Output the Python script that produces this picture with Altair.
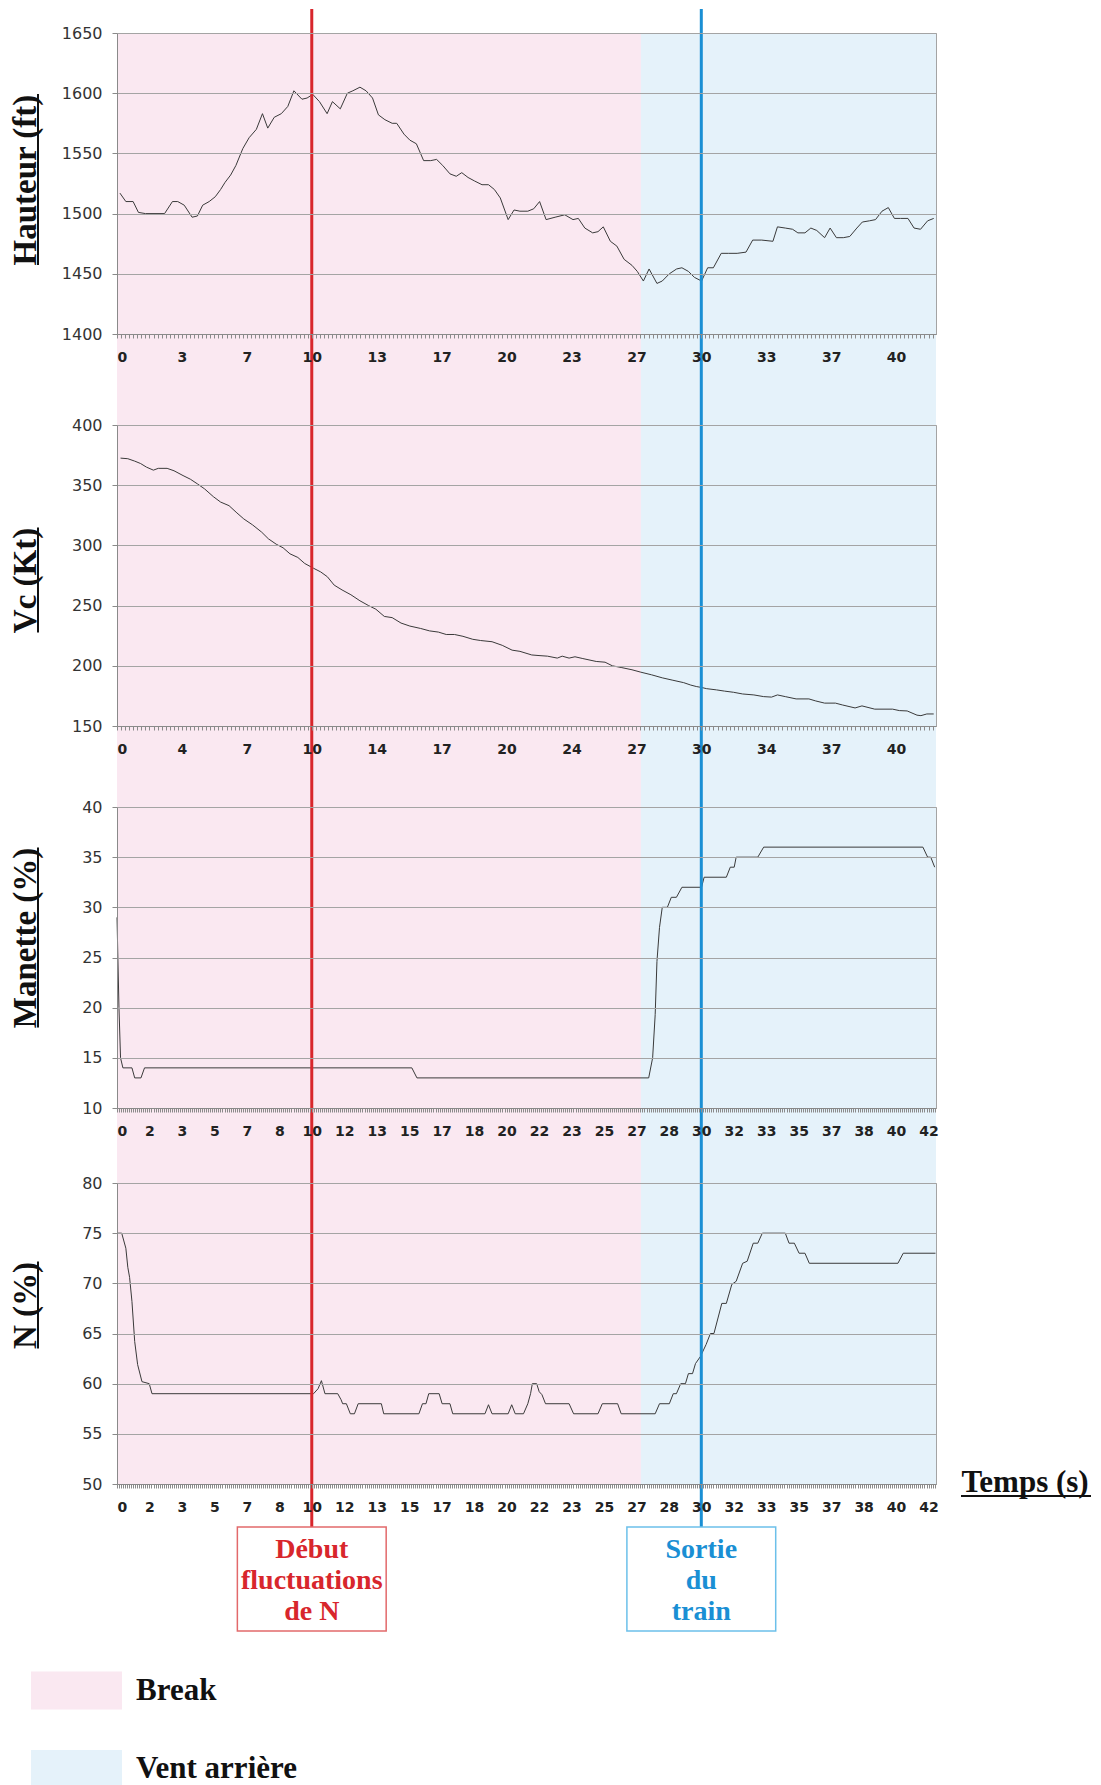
import altair as alt
import pandas as pd

# ---------------- data ----------------
T_END = 42.05            # right edge of the time axis (s)
T_BREAK_END = 26.9       # end of the "Break" phase
T_DEBUT = 10.0           # Début fluctuations de N
T_SORTIE = 30.0          # Sortie du train
# the series times below were read against a 41.667 s wide frame; this converts them
READ_CAL = T_END / (125 / 3)

H_T = [0.15, 0.45, 0.82, 1.09, 1.45, 2.42, 2.82, 3.09, 3.42, 3.82,
       4.09, 4.36, 4.69, 5.0, 5.27, 5.5, 5.78, 6.05, 6.4, 6.72,
       7.09, 7.4, 7.67, 8.0, 8.36, 8.69, 9.0, 9.41, 9.67, 9.96,
       10.3, 10.69, 10.96, 11.36, 11.72, 12.0, 12.36, 12.67, 13.0, 13.3,
       13.63, 14.0, 14.23, 14.6, 14.9, 15.23, 15.6, 15.96, 16.26, 16.57,
       16.94, 17.26, 17.54, 17.86, 18.2, 18.57, 18.9, 19.2, 19.5, 19.9,
       20.2, 20.5, 20.9, 21.2, 21.5, 21.83, 22.29, 22.78, 23.2, 23.47,
       23.8, 24.2, 24.47, 24.74, 25.1, 25.43, 25.8, 26.2, 26.47, 26.78,
       27.07, 27.47, 27.74, 28.1, 28.47, 28.74, 29.07, 29.38, 29.74, 30.05,
       30.34, 30.74, 31.1, 31.55, 32.0, 32.34, 32.8, 33.37, 33.6, 34.0,
       34.37, 34.64, 35.0, 35.3, 35.6, 36.0, 36.28, 36.6, 36.95, 37.28,
       37.64, 37.92, 38.28, 38.59, 38.92, 39.24, 39.55, 39.86, 40.24, 40.55,
       40.88, 41.24, 41.55]
H_V = [1517, 1510, 1510, 1501, 1500, 1500, 1510, 1510, 1507, 1497,
       1498, 1507, 1510, 1514, 1520, 1526, 1532, 1540, 1554, 1563,
       1570, 1583, 1571, 1580, 1583, 1589, 1602, 1595, 1596, 1599,
       1593, 1583, 1593, 1587, 1600, 1602, 1605, 1602, 1596, 1582,
       1578, 1575, 1575, 1566, 1561, 1558, 1544, 1544, 1545, 1540,
       1533, 1531, 1534, 1530, 1527, 1524, 1524, 1520, 1513, 1495,
       1503, 1502, 1502, 1504, 1510, 1495, 1497, 1499, 1495, 1496,
       1488, 1484, 1485, 1489, 1477, 1473, 1462, 1457, 1452, 1444,
       1454, 1442, 1444, 1450, 1454, 1455, 1452, 1447, 1444, 1455,
       1455, 1467, 1467, 1467, 1468, 1478, 1478, 1477, 1489, 1488,
       1487, 1484, 1484, 1488, 1486, 1480, 1488, 1480, 1480, 1481,
       1488, 1493, 1494, 1495, 1502, 1505, 1496, 1496, 1496, 1488,
       1487, 1494, 1496]

VC_T = [0.18, 0.55, 0.9, 1.2, 1.5, 1.85, 2.1, 2.55, 2.9, 3.36,
        3.73, 4.1, 4.45, 4.9, 5.27, 5.7, 6.1, 6.45, 6.9, 7.36,
        7.7, 8.1, 8.45, 8.8, 9.2, 9.55, 10.0, 10.36, 10.7, 11.05,
        11.45, 11.9, 12.36, 12.8, 13.17, 13.6, 14.0, 14.45, 14.9, 15.45,
        15.9, 16.35, 16.75, 17.17, 17.6, 18.1, 18.5, 19.08, 19.6, 20.1,
        20.5, 21.1, 21.47, 21.9, 22.4, 22.65, 23.0, 23.3, 23.7, 24.38,
        24.83, 25.2, 25.65, 26.2, 26.65, 27.2, 27.74, 28.28, 28.83, 29.19,
        29.47, 29.74, 30.0, 30.5, 30.9, 31.37, 31.83, 32.4, 32.9, 33.3,
        33.6, 34.0, 34.55, 35.2, 35.55, 36.0, 36.55, 36.9, 37.55, 37.9,
        38.55, 39.46, 39.8, 40.2, 40.7, 40.9, 41.2, 41.55]
VC_V = [372.5, 372, 370, 368, 365, 362.5, 364, 364, 362, 358,
        355, 351, 347, 340.5, 336, 333, 327, 322, 317, 311,
        305.5, 301, 298, 293, 290, 285, 281, 278, 274, 267,
        263, 259, 254, 250, 247, 241, 240, 235.5, 233, 231,
        229, 228, 226, 226, 224.5, 222, 221, 220, 217, 213,
        212, 209, 208.5, 208, 206.4, 208, 206.4, 207.5, 206, 203.6,
        203, 200, 198.6, 196.7, 194.7, 192.5, 190, 188, 186, 184,
        182.8, 182, 181, 180, 179, 178, 176.6, 175.8, 174.4, 174,
        175.8, 174.4, 172.5, 172.5, 170.8, 169, 169, 167.5, 165, 166.7,
        164, 164, 162.8, 162.5, 159, 158.6, 160, 160]

MAN_T = [0.0, 0.1, 0.18, 0.3, 0.76, 0.9, 1.22, 1.4, 15.0, 15.26,
         27.05, 27.25, 27.38, 27.47, 27.6, 27.74, 28.0, 28.2, 28.46, 28.74,
         29.74, 29.87, 31.0, 31.2, 31.4, 31.5, 32.6, 32.9, 41.0, 41.24,
         41.4, 41.6]
MAN_V = [29, 20, 15, 14, 14, 13, 13, 14, 14, 13,
         13, 15, 19.3, 24.6, 28, 30, 30, 31, 31, 32,
         32, 33, 33, 34, 34, 35, 35, 36, 36, 35,
         35, 34]

N_T = [0.0, 0.24, 0.45, 0.55, 0.64, 0.76, 0.9, 1.05, 1.27, 1.64,
       1.78, 10.0, 10.23, 10.4, 10.58, 11.23, 11.4, 11.48, 11.67, 11.87,
       12.08, 12.27, 13.45, 13.57, 15.36, 15.54, 15.72, 15.86, 16.39, 16.54,
       16.94, 17.08, 18.72, 18.9, 19.08, 19.9, 20.08, 20.26, 20.68, 20.9,
       21.04, 21.13, 21.35, 21.48, 21.62, 21.8, 23.0, 23.23, 24.47, 24.69,
       25.47, 25.65, 27.38, 27.6, 28.1, 28.3, 28.46, 28.68, 28.92, 29.07,
       29.28, 29.43, 29.68, 29.97, 30.19, 30.37, 30.77, 31.0, 31.28, 31.5,
       31.83, 32.06, 32.37, 32.6, 32.83, 34.0, 34.19, 34.46, 34.7, 35.0,
       35.22, 39.73, 40.0, 41.64]
N_V = [75, 75, 73.5, 71.6, 70.6, 68.2, 64.2, 61.9, 60.2, 60,
       59, 59, 59.5, 60.3, 59, 59, 58.4, 58, 58, 57,
       57, 58, 58, 57, 57, 58, 58, 59, 59, 58,
       58, 57, 57, 57.9, 57, 57, 57.9, 57, 57, 58,
       59, 60, 60, 59.2, 58.9, 58, 58, 57, 57, 58,
       58, 57, 57, 58, 58, 59, 59, 60, 60, 61,
       61, 62, 62.7, 63.9, 65, 65, 68, 68, 69.9, 70.2,
       72, 72.2, 74, 74, 75, 75, 74, 74, 73, 73,
       72, 72, 73, 73]

X_LABELS_H = ["0", "3", "7", "10", "13", "17", "20", "23", "27", "30", "33", "37", "40"]
X_LABELS_VC = ["0", "4", "7", "10", "14", "17", "20", "24", "27", "30", "34", "37", "40"]
X_LABELS_FINE = ["0", "2", "3", "5", "7", "8", "10", "12", "13", "15", "17", "18", "20",
                 "22", "23", "25", "27", "28", "30", "32", "33", "35", "37", "38", "40", "42"]

Y_TICKS_H = [1400, 1450, 1500, 1550, 1600, 1650]
Y_TICKS_VC = [150, 200, 250, 300, 350, 400]
Y_TICKS_MAN = [10, 15, 20, 25, 30, 35, 40]
Y_TICKS_N = [50, 55, 60, 65, 70, 75, 80]

Y_TITLES = ["Hauteur (ft)", "Vc (Kt)", "Manette (%)", "N (%)"]
X_TITLE = "Temps (s)"

PHASES = ["Break", "Vent arrière"]
PHASE_START = [0, T_BREAK_END]
PHASE_END = [T_BREAK_END, T_END]

EVENT_T = [T_DEBUT, T_SORTIE]
EVENT_LABELS = ["Début\nfluctuations\nde N", "Sortie\ndu\ntrain"]
EVENT_HALF = 3.82

# ---------------- styling ----------------
PINK = "#fae8f1"
BLUEBG = "#e5f2fa"
RED = "#d8262c"
BLUE = "#1a8fd4"
RED_BOX = "#e2696b"
BLUE_BOX = "#6cc0ea"
LINE = "#3a3a3a"
GRID = "#a4a4a4"
AXC = "#8a8a8a"
SERIF = "Liberation Serif"

W, H = 819, 301
GAPS = [91, 81, 75]
TEMPS_X, TEMPS_LEN = 844, 130

xscale = alt.Scale(domain=[0, T_END], nice=False, zero=False)
phase_df = pd.DataFrame({"phase": PHASES, "t0": PHASE_START, "t1": PHASE_END})
one = pd.DataFrame({"a": [0]})


def x_axis(labels, major, title=None):
    minor = major / 16
    n = int(T_END / minor + 1e-9)
    vals = [k * minor for k in range(n + 1)]
    arr = "[" + ",".join("'%s'" % s for s in labels) + "]"
    idx = "round(datum.value / %.10f)" % minor
    expr = "(%s %% 16 == 0 && %s / 16 < %d) ? %s[%s / 16] : ''" % (idx, idx, len(labels), arr, idx)
    kw = dict(values=vals, labelExpr=expr, tickSize=4, tickColor=AXC, domainColor=AXC,
              labelFont="DejaVu Sans", labelFontWeight="bold", labelFontSize=14,
              labelColor="#222", labelPadding=19, labelBaseline="middle",
              labelOverlap=False, grid=False, zindex=1)
    if title:
        kw.update(title=title, titleX=TEMPS_X, titleY=7, titleAlign="left",
                  titleBaseline="alphabetic", titleAngle=0, titleFont=SERIF,
                  titleFontWeight="bold", titleFontSize=31, titleColor="#111")
    else:
        kw.update(title=None)
    return alt.Axis(**kw)


def panel(t, v, ydom, yticks, ytitle, tcenter, ulen, xlabels, major,
          below, rule_top=0, rule_below=None, xtitle=None, legend=None, extras=()):
    if rule_below is None:
        rule_below = below
    xa = x_axis(xlabels, major, xtitle)
    ya = alt.Axis(values=yticks, title=ytitle, titleX=-82, titleY=tcenter, titleAngle=270,
                  titleAlign="center", titleBaseline="alphabetic", titleFont=SERIF,
                  titleFontWeight="bold", titleFontSize=33, titleColor="#111",
                  labelFont="DejaVu Sans", labelFontSize=16, labelColor="#333",
                  labelPadding=10, tickSize=5, tickColor=AXC, domainColor=AXC,
                  gridColor=GRID, grid=True, zindex=1, labelOverlap=False, format="d")
    src = pd.DataFrame({"t": [x * READ_CAL for x in t], "v": v})
    bg = alt.Chart(phase_df).mark_rect().encode(
        x=alt.X("t0:Q", scale=xscale, axis=xa), x2="t1:Q",
        y=alt.value(0), y2=alt.value(H + below),
        color=alt.Color("phase:N", scale=alt.Scale(domain=PHASES, range=[PINK, BLUEBG]),
                        legend=legend))
    line = alt.Chart(src).mark_line(color=LINE, strokeWidth=1).encode(
        x=alt.X("t:Q", scale=xscale, axis=xa),
        y=alt.Y("v:Q", scale=alt.Scale(domain=ydom, nice=False, zero=False), axis=ya))
    red = alt.Chart(pd.DataFrame({"t": [EVENT_T[0]]})).mark_rule(color=RED, strokeWidth=3).encode(
        x=alt.X("t:Q", scale=xscale, axis=xa), y=alt.value(rule_top), y2=alt.value(H + rule_below))
    blue = alt.Chart(pd.DataFrame({"t": [EVENT_T[1]]})).mark_rule(color=BLUE, strokeWidth=3).encode(
        x=alt.X("t:Q", scale=xscale, axis=xa), y=alt.value(rule_top), y2=alt.value(H + rule_below))
    ul = alt.Chart(one).mark_rule(color="#111", strokeWidth=2).encode(
        x=alt.value(-79), y=alt.value(tcenter - ulen / 2), y2=alt.value(tcenter + ulen / 2))
    layers = [bg, line, red, blue, ul] + [e(xa) for e in extras]
    return alt.layer(*layers).properties(width=W, height=H)


def spacer(h):
    return (alt.Chart(one).mark_rule(opacity=0)
            .encode(x=alt.value(0), y=alt.value(0), y2=alt.value(1))
            .properties(width=W, height=h, view=alt.ViewBackground(stroke=None)))


boxes_df = pd.DataFrame({
    "t": EVENT_T,
    "t0": [x - EVENT_HALF for x in EVENT_T],
    "t1": [x + EVENT_HALF for x in EVENT_T],
    "label": EVENT_LABELS,
    "stroke": [RED_BOX, BLUE_BOX],
    "tc": [RED, BLUE],
})


def box_layer(xa):
    return alt.Chart(boxes_df).mark_rect(fillOpacity=0, strokeWidth=1.5).encode(
        x=alt.X("t0:Q", scale=xscale, axis=xa), x2="t1:Q",
        y=alt.value(H + 43), y2=alt.value(H + 147),
        stroke=alt.Stroke("stroke:N", scale=None))


def box_text(xa):
    return alt.Chart(boxes_df).mark_text(font=SERIF, fontWeight="bold", fontSize=28,
                                         lineBreak="\n", lineHeight=31,
                                         align="center", baseline="middle").encode(
        x=alt.X("t:Q", scale=xscale, axis=xa), y=alt.value(H + 66),
        text="label:N", fill=alt.Fill("tc:N", scale=None))


def temps_ul(xa):
    return alt.Chart(one).mark_rule(color="#111", strokeWidth=2).encode(
        x=alt.value(TEMPS_X), x2=alt.value(TEMPS_X + TEMPS_LEN), y=alt.value(H + 12))


legend = alt.Legend(orient="none", legendX=-86, legendY=462, title=None,
                    symbolType="M-1,-0.42L1,-0.42L1,0.42L-1,0.42Z", symbolSize=8281,
                    symbolStrokeWidth=0, symbolOpacity=1,
                    labelFont=SERIF, labelFontWeight="bold", labelFontSize=31,
                    labelColor="#111", labelOffset=14, labelLimit=400,
                    rowPadding=13.5, padding=0)

p1 = panel(H_T, H_V, [1400, 1650], Y_TICKS_H, Y_TITLES[0], 146.6, 171,
           X_LABELS_H, 10 / 3, below=GAPS[0], rule_top=-24)
p2 = panel(VC_T, VC_V, [150, 400], Y_TICKS_VC, Y_TITLES[1], 155, 105,
           X_LABELS_VC, 10 / 3, below=GAPS[1])
p3 = panel(MAN_T, MAN_V, [10, 40], Y_TICKS_MAN, Y_TITLES[2], 130.5, 180,
           X_LABELS_FINE, 5 / 3, below=GAPS[2])
p4 = panel(N_T, N_V, [50, 80], Y_TICKS_N, Y_TITLES[3], 122, 87,
           X_LABELS_FINE, 5 / 3, below=0, rule_below=43, xtitle=X_TITLE,
           legend=legend, extras=(box_layer, box_text, temps_ul))

chart = (alt.vconcat(p1, spacer(GAPS[0]), p2, spacer(GAPS[1]), p3, spacer(GAPS[2]), p4,
                     spacing=0, bounds="flush")
         .resolve_legend(color="independent")
         .properties(padding={"left": 0, "top": -1, "right": 0, "bottom": 4})
         .configure_view(stroke=GRID, strokeWidth=1))

chart.save("out.html", embed_options={"renderer": "svg", "actions": False})
